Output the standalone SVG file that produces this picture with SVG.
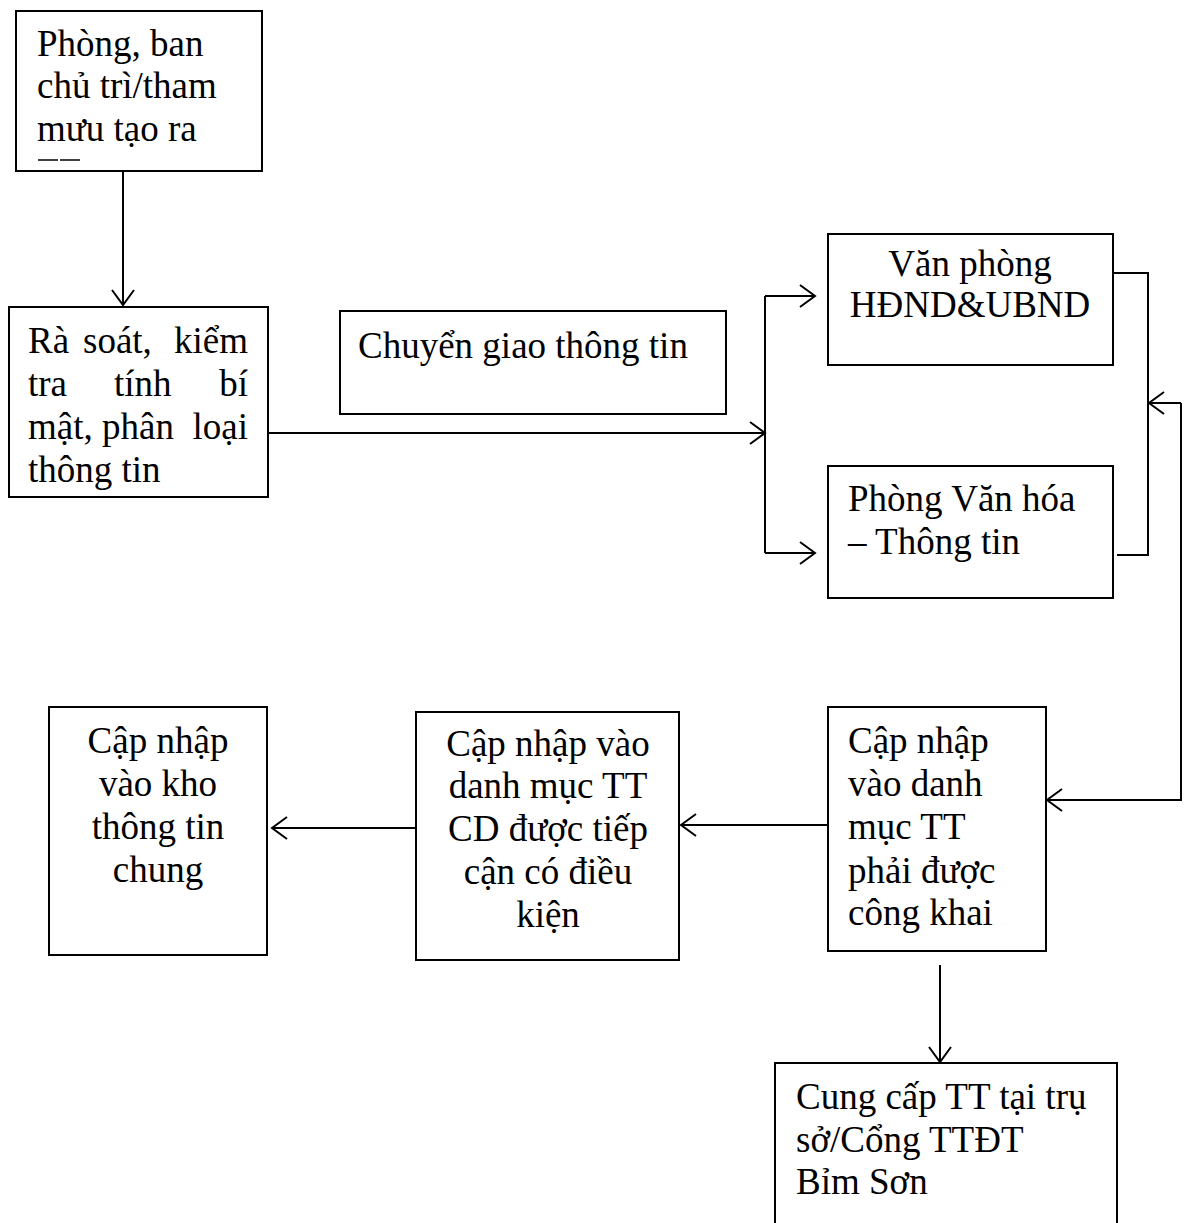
<svg xmlns="http://www.w3.org/2000/svg" width="1187" height="1223" viewBox="0 0 1187 1223">
<style>
.box{fill:#fff;stroke:#000;stroke-width:2}
.t{font-family:"Liberation Serif","Times New Roman",serif;font-size:37px;fill:#000}
.c{text-anchor:middle}
.e{text-anchor:end}
.ln{fill:none;stroke:#000;stroke-width:2}
</style>
<defs>
<marker id="arr" viewBox="0 0 20 26" refX="18" refY="13" markerWidth="20" markerHeight="26" markerUnits="userSpaceOnUse" orient="auto">
<path d="M3,2 L18,13 L3,24" fill="none" stroke="#000" stroke-width="2"/>
</marker>
</defs>
<rect width="1187" height="1223" fill="#fff"/>
<g id="connectors">
<line class="ln" x1="123" y1="171" x2="123" y2="305" marker-end="url(#arr)"/>
<line class="ln" x1="268" y1="433" x2="765" y2="433" marker-end="url(#arr)"/>
<line class="ln" x1="765" y1="296" x2="765" y2="553"/>
<line class="ln" x1="765" y1="296" x2="815" y2="296" marker-end="url(#arr)"/>
<line class="ln" x1="765" y1="553" x2="815" y2="553" marker-end="url(#arr)"/>
<polyline class="ln" points="1113,273 1148,273 1148,555 1117,555"/>
<line class="ln" x1="1181" y1="403" x2="1149" y2="403" marker-end="url(#arr)"/>
<polyline class="ln" points="1181,403 1181,800 1047,800" marker-end="url(#arr)"/>
<line class="ln" x1="828" y1="825" x2="681" y2="825" marker-end="url(#arr)"/>
<line class="ln" x1="416" y1="828" x2="272" y2="828" marker-end="url(#arr)"/>
<line class="ln" x1="940" y1="965" x2="940" y2="1062" marker-end="url(#arr)"/>
</g>
<g id="n1">
<rect class="box" x="16" y="11" width="246" height="160"/>
<text class="t" x="37" y="56">Phòng, ban</text>
<text class="t" x="37" y="98">chủ trì/tham</text>
<text class="t" x="37" y="141">mưu tạo ra</text>
<line x1="38" y1="160" x2="58" y2="160" stroke="#000" stroke-width="1.5"/>
<line x1="60" y1="160" x2="80" y2="160" stroke="#000" stroke-width="1.5"/>
</g>
<g id="n2">
<rect class="box" x="9" y="307" width="259" height="190"/>
<text class="t" x="28" y="353">Rà</text>
<text class="t" x="83" y="353">soát,</text>
<text class="t e" x="248" y="353">kiểm</text>
<text class="t" x="28" y="396">tra</text>
<text class="t" x="114" y="396">tính</text>
<text class="t e" x="248" y="396">bí</text>
<text class="t" x="28" y="439">mật, phân</text>
<text class="t e" x="248" y="439">loại</text>
<text class="t" x="28" y="482">thông tin</text>
</g>
<g id="n3">
<rect class="box" x="340" y="311" width="386" height="103"/>
<text class="t" x="358" y="358">Chuyển giao thông tin</text>
</g>
<g id="n4">
<rect class="box" x="828" y="234" width="285" height="131"/>
<text class="t c" x="970" y="276">Văn phòng</text>
<text class="t c" x="970" y="317">HĐND&amp;UBND</text>
</g>
<g id="n5">
<rect class="box" x="828" y="466" width="285" height="132"/>
<text class="t" x="848" y="511">Phòng Văn hóa</text>
<text class="t" x="848" y="554">– Thông tin</text>
</g>
<g id="n6">
<rect class="box" x="828" y="707" width="218" height="244"/>
<text class="t" x="848" y="753">Cập nhập</text>
<text class="t" x="848" y="796">vào danh</text>
<text class="t" x="848" y="839">mục TT</text>
<text class="t" x="848" y="883">phải được</text>
<text class="t" x="848" y="925">công khai</text>
</g>
<g id="n7">
<rect class="box" x="416" y="712" width="263" height="248"/>
<text class="t c" x="548" y="756">Cập nhập vào</text>
<text class="t c" x="548" y="798">danh mục TT</text>
<text class="t c" x="548" y="841">CD được tiếp</text>
<text class="t c" x="548" y="884">cận có điều</text>
<text class="t c" x="548" y="927">kiện</text>
</g>
<g id="n8">
<rect class="box" x="49" y="707" width="218" height="248"/>
<text class="t c" x="158" y="753">Cập nhập</text>
<text class="t c" x="158" y="796">vào kho</text>
<text class="t c" x="158" y="839">thông tin</text>
<text class="t c" x="158" y="882">chung</text>
</g>
<g id="n9">
<rect class="box" x="775" y="1063" width="342" height="170"/>
<text class="t" x="796" y="1109">Cung cấp TT tại trụ</text>
<text class="t" x="796" y="1152">sở/Cổng TTĐT</text>
<text class="t" x="796" y="1194">Bỉm Sơn</text>
</g>
</svg>
